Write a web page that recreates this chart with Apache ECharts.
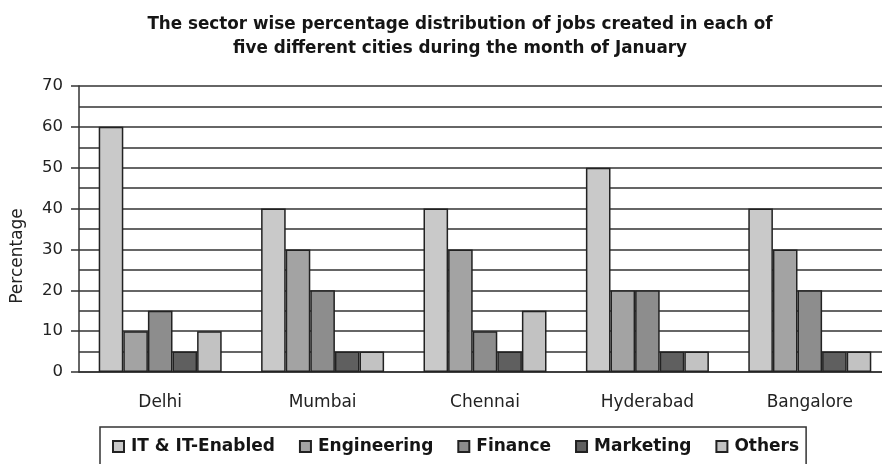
<!DOCTYPE html>
<html><head><meta charset="utf-8">
<script src="https://cdn.jsdelivr.net/npm/echarts@6/dist/echarts.min.js"></script>
<style>html,body{margin:0;padding:0;background:#fff}#c{width:882px;height:464px}</style>
</head><body><div id="c"></div>
<script>
const cities = ['Delhi', 'Mumbai', 'Chennai', 'Hyderabad', 'Bangalore'];
const itEnabled = [60, 40, 40, 50, 40];
const engineering = [10, 30, 30, 20, 30];
const finance = [15, 20, 10, 20, 20];
const marketing = [5, 5, 5, 5, 5];
const others = [10, 5, 15, 5, 5];
const seriesNames = ['IT & IT-Enabled', 'Engineering', 'Finance', 'Marketing', 'Others'];
const colors = ['#c9c9c9', '#a3a3a3', '#8d8d8d', '#5f5f5f', '#c2c2c2'];
const values = [itEnabled, engineering, finance, marketing, others];

const chart = echarts.init(document.getElementById('c'));
const font = '"DejaVu Sans", sans-serif';
chart.setOption({
  animation: false,
  textStyle: { fontFamily: font },
  title: {
    text: 'The sector wise percentage distribution of jobs created in each of\nfive different cities during the month of January',
    left: 455, top: 8, textAlign: 'center',
    textStyle: { fontSize: 16.8, fontWeight: 'bold', color: '#151515', lineHeight: 24, fontFamily: font }
  },
  legend: {
    top: 427, left: 100,
    padding: [11, 7, 10, 12],
    borderColor: '#333', borderWidth: 1.5,
    itemWidth: 11, itemHeight: 11, itemGap: 24,
    icon: 'rect',
    textStyle: { fontSize: 17, fontWeight: 'bold', color: '#151515', fontFamily: font, padding: [0, 0, 0, 2] },
    data: seriesNames
  },
  grid: { left: 79, width: 812, top: 86, bottom: 92, outerBoundsMode: 'none' },
  xAxis: {
    type: 'category', data: cities,
    axisLine: { lineStyle: { color: '#333', width: 1.5 } },
    axisTick: { show: false },
    axisLabel: { fontSize: 17, color: '#222', margin: 22, fontFamily: font }
  },
  yAxis: {
    type: 'value', min: 0, max: 70, interval: 10,
    name: 'Percentage', nameLocation: 'middle', nameGap: 53, nameRotate: 90,
    nameTextStyle: { fontSize: 17, color: '#222', fontFamily: font, padding: [0, 54, 0, 0] },
    axisLine: { show: true, lineStyle: { color: '#333', width: 1.5 } },
    axisTick: { show: true, length: 8, lineStyle: { color: '#333', width: 1.5 } },
    axisLabel: { fontSize: 16.5, color: '#222', margin: 16, fontFamily: font },
    splitLine: { show: true, lineStyle: { color: '#333', width: 1.5 } },
    minorTick: { show: false, splitNumber: 2 },
    minorSplitLine: { show: true, lineStyle: { color: '#333', width: 1.5 } }
  },
  series: seriesNames.map((n, i) => ({
    name: n, type: 'bar', data: values[i],
    barWidth: 24.6, barGap: '0%',
    itemStyle: { color: colors[i], borderColor: '#222', borderWidth: 1.5 }
  }))
});
</script></body></html>
